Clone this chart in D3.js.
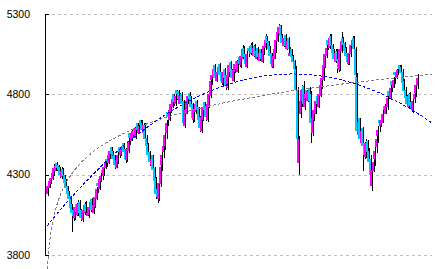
<!DOCTYPE html>
<html>
<head>
<meta charset="utf-8">
<script src="https://cdn.jsdelivr.net/npm/d3@7"></script>
<style>
  body { margin: 0; background: #fff; }
  svg { display: block; }
</style>
</head>
<body>
<div id="chart"></div>
<script>
// daily OHLC
const open = [
4180,4215,4245,4270,4300,4320,4375,4360,4345,4285,
4335,4300,4270,4230,4200,4170,4120,4080,4030,4120,
4050,4130,4080,4015,4060,4120,4040,4050,4080,4150,
4060,4100,4150,4250,4210,4260,4330,4290,4340,4400,
4370,4400,4470,4450,4420,4340,4380,4470,4420,4440,
4500,4460,4390,4450,4560,4510,4530,4590,4530,4620,
4560,4640,4620,4560,4610,4530,4490,4440,4360,4420,
4340,4280,4210,4150,4240,4360,4440,4480,4560,4690,
4640,4690,4720,4800,4740,4830,4820,4740,4800,4760,
4600,4680,4740,4810,4790,4740,4640,4690,4760,4720,
4660,4570,4640,4750,4720,4640,4720,4790,4890,4910,
4980,4880,4920,4990,4940,4870,4960,4920,4840,4910,
5000,4960,4880,4940,5010,4940,5030,4980,5020,5090,
5050,4970,5090,5050,5110,5040,5100,5020,5090,5010,
5080,5000,5050,5090,5160,5130,5100,5060,4970,5020,
5060,5130,5180,5230,5170,5100,5170,5080,5150,5040,
5080,5040,5010,4960,4830,4370,4680,4760,4850,4720,
4830,4760,4840,4800,4560,4640,4680,4790,4720,4790,
4850,4890,4970,5040,5140,5090,5160,5110,5080,5000,
5070,5020,4950,5070,5150,5120,5090,5060,4990,5050,
5100,5150,5080,4910,4550,4650,4500,4590,4500,4410,
4510,4450,4400,4230,4320,4400,4470,4540,4640,4600,
4620,4730,4680,4720,4820,4780,4880,4840,4940,4900,
4920,4980,4970,4940,4880,4830,4790,4720,4800,4750,
4700,4770,4810,4850
];
const high = [
4255,4280,4300,4330,4365,4375,4380,4350,4350,4345,
4340,4300,4275,4230,4200,4170,4110,4085,4120,4125,
4140,4145,4085,4100,4130,4135,4095,4120,4150,4155,
4130,4180,4225,4255,4290,4310,4335,4370,4395,4400,
4440,4475,4475,4440,4420,4410,4440,4460,4480,4500,
4500,4465,4480,4530,4555,4580,4590,4595,4610,4615,
4625,4630,4640,4620,4620,4545,4495,4445,4420,4420,
4350,4285,4200,4270,4370,4440,4500,4570,4640,4680,
4720,4760,4795,4795,4810,4820,4825,4810,4815,4765,
4720,4780,4810,4815,4785,4745,4720,4760,4765,4715,
4665,4680,4740,4745,4715,4760,4820,4900,4945,4985,
4990,4960,4990,4995,4935,4960,4965,4915,4940,5000,
5005,4955,4970,5010,5015,5030,5035,5060,5110,5100,
5045,5070,5090,5120,5125,5110,5115,5090,5095,5080,
5085,5080,5120,5175,5165,5135,5095,5055,5060,5100,
5160,5210,5237,5230,5175,5170,5175,5150,5155,5095,
5085,5045,5015,4975,4845,4540,4790,4860,4880,4820,
4825,4840,4845,4820,4670,4720,4780,4785,4820,4880,
4920,5000,5075,5110,5130,5175,5175,5115,5085,5080,
5085,5025,5100,5190,5155,5125,5095,5055,5080,5130,
5160,5165,5095,4930,4650,4655,4590,4595,4505,4520,
4515,4465,4420,4350,4400,4470,4540,4600,4640,4660,
4700,4740,4750,4800,4820,4860,4880,4910,4940,4960,
4970,4975,4985,4955,4895,4845,4795,4810,4815,4745,
4780,4820,4880,4925
];
const low = [
4170,4215,4240,4265,4290,4320,4320,4305,4280,4275,
4270,4230,4195,4160,4120,4060,3945,4010,4015,4040,
4045,4035,4010,4005,4050,4050,4040,4030,4070,4060,
4055,4090,4145,4185,4205,4255,4265,4290,4335,4345,
4365,4395,4410,4380,4335,4340,4365,4405,4415,4445,
4420,4375,4380,4435,4485,4515,4535,4530,4525,4560,
4555,4575,4560,4555,4495,4455,4395,4355,4350,4300,
4235,4150,4125,4135,4225,4325,4405,4455,4525,4600,
4635,4685,4715,4725,4725,4765,4745,4745,4715,4600,
4590,4675,4745,4750,4700,4620,4625,4675,4680,4615,
4565,4560,4635,4680,4635,4630,4715,4775,4855,4900,
4880,4875,4925,4900,4860,4850,4880,4825,4825,4905,
4920,4880,4875,4935,4940,4935,4970,4965,5025,5010,
4970,4965,5035,5045,5040,5035,5020,5015,5010,5005,
5000,4995,5045,5075,5100,5060,5020,4965,4965,5025,
5055,5125,5175,5140,5100,5095,5080,5075,5060,5040,
5010,4980,4940,4810,4505,4300,4650,4720,4720,4700,
4760,4755,4740,4500,4540,4635,4675,4720,4715,4785,
4835,4885,4965,5025,5075,5085,5080,5040,5000,4995,
4930,4940,4945,5055,5090,5050,5020,4980,4985,5035,
5095,5060,4900,4550,4540,4500,4495,4320,4400,4405,
4420,4360,4280,4200,4315,4355,4435,4495,4565,4595,
4625,4680,4675,4705,4770,4765,4815,4845,4865,4895,
4925,4935,4910,4850,4800,4760,4720,4715,4710,4690,
4685,4745,4785,4835
];
const close = [
4230,4260,4280,4310,4340,4355,4340,4330,4300,4320,
4290,4250,4220,4180,4150,4090,4060,4040,4100,4070,
4120,4060,4030,4080,4110,4070,4060,4100,4130,4080,
4110,4160,4210,4230,4270,4290,4310,4350,4370,4380,
4420,4450,4430,4400,4360,4390,4420,4440,4460,4480,
4440,4400,4460,4510,4530,4560,4570,4550,4590,4580,
4600,4610,4580,4600,4520,4480,4420,4380,4400,4330,
4260,4180,4160,4250,4350,4420,4480,4550,4620,4660,
4700,4740,4770,4750,4790,4800,4770,4790,4740,4620,
4700,4760,4790,4770,4720,4650,4700,4740,4700,4640,
4590,4660,4720,4700,4660,4740,4800,4880,4920,4960,
4900,4940,4970,4920,4880,4940,4900,4850,4920,4980,
4940,4900,4950,4990,4960,5010,4990,5040,5080,5030,
4990,5050,5070,5100,5060,5090,5040,5070,5030,5060,
5020,5060,5100,5140,5120,5080,5040,4990,5040,5080,
5140,5190,5220,5160,5120,5150,5100,5130,5080,5060,
5030,5000,4960,4830,4520,4520,4760,4830,4740,4800,
4780,4820,4760,4620,4650,4700,4760,4740,4800,4860,
4900,4980,5050,5090,5110,5150,5100,5060,5020,5060,
5010,4960,5080,5130,5110,5070,5040,5000,5060,5110,
5140,5080,4920,4570,4630,4520,4570,4480,4420,4500,
4440,4380,4300,4330,4380,4450,4520,4580,4620,4640,
4680,4700,4730,4780,4790,4840,4860,4890,4920,4940,
4950,4960,4930,4870,4820,4780,4740,4790,4730,4710,
4760,4800,4860,4900
];
const yTicks = [3800, 4300, 4800, 5300];

const width = 438, height = 269;
const mLeft = 45, mRight = 432, mTop = 14, mBottom = 255;

const svg = d3.select("#chart").append("svg")
    .attr("width", width)
    .attr("height", height);

svg.append("rect")
    .attr("width", width)
    .attr("height", height)
    .attr("fill", "#fff");

const n = close.length;
const x = d3.scaleLinear().domain([0, n - 1]).range([47, 417]);
const y = d3.scaleLinear().domain([3800, 5300]).range([mBottom, mTop]);

// grid
svg.append("g").attr("shape-rendering", "crispEdges")
    .selectAll("line")
    .data(yTicks)
    .join("line")
    .attr("x1", mLeft + 1)
    .attr("x2", mRight)
    .attr("y1", d => Math.round(y(d)) + 0.5)
    .attr("y2", d => Math.round(y(d)) + 0.5)
    .attr("stroke", "#c0c0c0")
    .attr("stroke-dasharray", "3,3");

// candles
const candles = svg.append("g").attr("shape-rendering", "crispEdges");
d3.range(n).forEach(i => {
    const cx = Math.round(x(i));
    const up = close[i] >= open[i];
    const hi = Math.max(high[i], open[i], close[i]);
    const lo = Math.min(low[i], open[i], close[i]);
    candles.append("rect")
        .attr("x", cx + 1)
        .attr("y", Math.round(y(hi)))
        .attr("width", 1)
        .attr("height", Math.max(1, Math.round(y(lo)) - Math.round(y(hi))))
        .attr("fill", "#000");
    const yt = Math.round(y(Math.max(open[i], close[i])));
    const yb = Math.round(y(Math.min(open[i], close[i])));
    candles.append("rect")
        .attr("x", cx - 1)
        .attr("y", yt)
        .attr("width", 2)
        .attr("height", Math.max(1, yb - yt))
        .attr("fill", up ? "#ff00ff" : "#00c8ff");
});

// trend fits on closes
function solve3(A, b) {
    const M = A.map((r, k) => r.concat([b[k]]));
    for (let c = 0; c < 3; c++) {
        let p = c;
        for (let r = c + 1; r < 3; r++) if (Math.abs(M[r][c]) > Math.abs(M[p][c])) p = r;
        [M[c], M[p]] = [M[p], M[c]];
        for (let r = 0; r < 3; r++) {
            if (r === c) continue;
            const f = M[r][c] / M[c][c];
            for (let k = c; k < 4; k++) M[r][k] -= f * M[c][k];
        }
    }
    return M.map((r, k) => r[3] / r[k]);
}
const idx = d3.range(n);
const S = p => d3.sum(idx, i => Math.pow(i, p));
const Sy = p => d3.sum(idx, i => Math.pow(i, p) * close[i]);
const q = solve3([[S(0), S(1), S(2)], [S(1), S(2), S(3)], [S(2), S(3), S(4)]], [Sy(0), Sy(1), Sy(2)]);

const lx = idx.map(i => Math.log(i + 1));
const mx = d3.mean(lx), my = d3.mean(close);
const lb = d3.sum(idx, i => (lx[i] - mx) * (close[i] - my)) / d3.sum(idx, i => (lx[i] - mx) ** 2);
const la = my - lb * mx;

const iEnd = x.invert(mRight);
const ts = d3.range(0, iEnd, 0.25).concat([iEnd]);

const line = d3.line().x(d => x(d[0])).y(d => y(d[1]));

svg.append("path")
    .datum(ts.map(t => [t, la + lb * Math.log(t + 1)]))
    .attr("d", line)
    .attr("fill", "none")
    .attr("stroke", "#808080")
    .attr("stroke-dasharray", "3,2")
    .attr("shape-rendering", "crispEdges");

svg.append("path")
    .datum(ts.map(t => [t, q[0] + q[1] * t + q[2] * t * t]))
    .attr("d", line)
    .attr("fill", "none")
    .attr("stroke", "#0000ff")
    .attr("stroke-dasharray", "3,2")
    .attr("shape-rendering", "crispEdges");

// axis
const axis = svg.append("g").attr("shape-rendering", "crispEdges");
axis.append("line")
    .attr("x1", mLeft + 0.5).attr("x2", mLeft + 0.5)
    .attr("y1", mTop).attr("y2", mBottom + 1)
    .attr("stroke", "#000");
axis.selectAll(".tick")
    .data(yTicks)
    .join("line")
    .attr("x1", mLeft).attr("x2", mLeft + 4)
    .attr("y1", d => Math.round(y(d)) + 0.5)
    .attr("y2", d => Math.round(y(d)) + 0.5)
    .attr("stroke", "#000");
svg.append("g").selectAll("text")
    .data(yTicks)
    .join("text")
    .attr("x", 30)
    .attr("y", d => y(d))
    .attr("dy", "0.36em")
    .attr("text-anchor", "end")
    .attr("font-family", "Liberation Sans, Arial, sans-serif")
    .attr("font-size", "10.5px")
    .attr("fill", "#000")
    .text(d => d);
</script>
</body>
</html>
